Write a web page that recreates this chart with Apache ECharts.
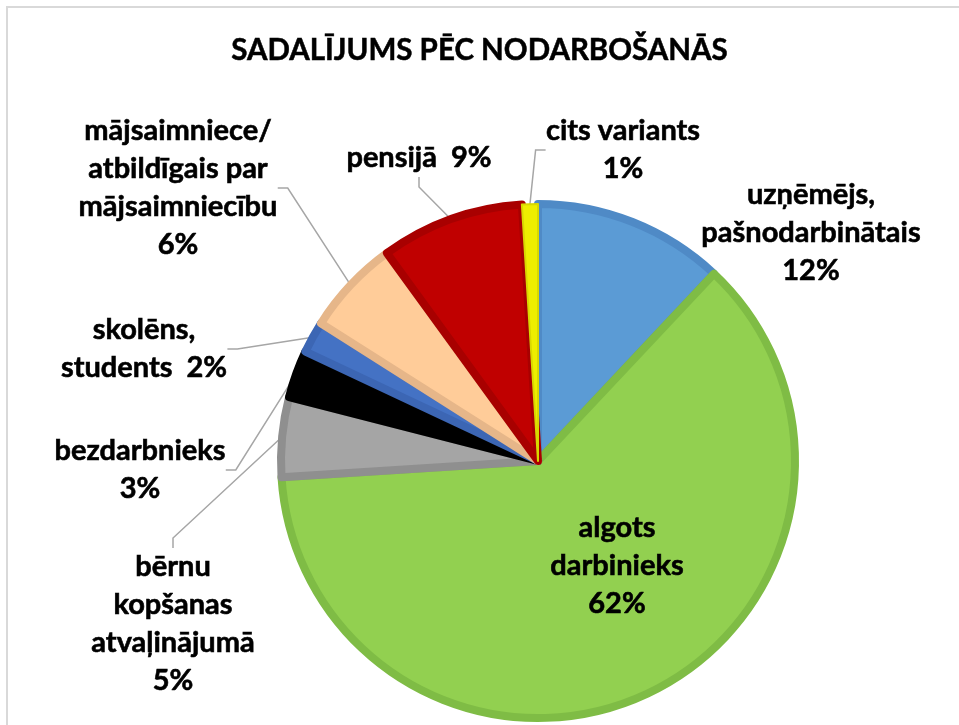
<!DOCTYPE html>
<html>
<head>
<meta charset="utf-8">
<script src="https://cdn.jsdelivr.net/npm/echarts@6/dist/echarts.min.js"></script>
<style>
html,body{margin:0;padding:0;background:#fff;overflow:hidden;}
#frame{position:absolute;left:6px;top:6px;width:1000px;height:1000px;border:2px solid #d9d9d9;box-sizing:border-box;}
#main{position:absolute;left:0;top:0;width:959px;height:725px;}
</style>
</head>
<body>
<div id="frame"></div>
<div id="main"></div>
<script>
// sadalījums pēc nodarbošanās
var categories = ['uzņēmējs,\npašnodarbinātais', 'algots\ndarbinieks', 'bērnu\nkopšanas\natvaļinājumā', 'bezdarbnieks', 'skolēns,\nstudents', 'mājsaimniece/\natbildīgais par\nmājsaimniecību', 'pensijā', 'cits variants'];
var values = [12, 62, 5, 3, 2, 6, 9, 1];
var inlinePct = ['skolēns,\nstudents', 'pensijā'];
var fillColors = ['#5b9bd5', '#92d050', '#a5a5a5', '#000000', '#4472c4', '#ffcc99', '#c00000', '#eeee00'];
var edgeColors = ['#4f8ac6', '#7fbc45', '#8f8f8f', '#000000', '#3c66b4', '#e6b689', '#a80000', '#d8d800'];

// label block centres (Excel-like placement)
var labelPos = [[811, 233], [617, 566], [173, 624], [140, 470], [144, 349], [178, 188], [419, 158], [623, 150]];
var noLine = [0, 1];

var chart = echarts.init(document.getElementById('main'));

var data = [];
for (var i = 0; i < values.length; i++) {
	data.push({
		name: categories[i],
		value: values[i],
		itemStyle: {color: fillColors[i], borderColor: edgeColors[i], borderWidth: values[i] < 2 ? 2 : 8},
		labelLine: {show: noLine.indexOf(i) < 0}
	});
}

var option = {
	animation: false,
	title: {
		text: 'SADALĪJUMS PĒC NODARBOŠANĀS',
		left: 'center',
		top: 30,
		textStyle: {fontFamily: 'Lato', fontWeight: 'bold', fontSize: 29.5, color: '#000', textBorderColor: '#000', textBorderWidth: 0.5}
	},
	series: [{
		type: 'pie',
		center: [538, 461],
		radius: 257,
		startAngle: 90,
		clockwise: true,
		avoidLabelOverlap: false,
		label: {
			show: true,
			fontFamily: 'Lato',
			fontWeight: 'bold',
			fontSize: 29,
			lineHeight: 38,
			color: '#000',
			textBorderColor: '#000',
			textBorderWidth: 0.6,
			align: 'center',
			formatter: function (p) {
				var sep = inlinePct.indexOf(p.name) >= 0 ? '  ' : '\n';
				return p.name + sep + Math.round(p.percent) + '%';
			}
		},
		labelLine: {show: true, length: 15, length2: 10, lineStyle: {color: '#a6a6a6', width: 1.5}},
		labelLayout: function (p) {
			var pos = labelPos[p.dataIndex];
			return {x: pos[0], y: pos[1], align: 'center', verticalAlign: 'middle'};
		},
		data: data
	}]
};
chart.setOption(option);
</script>
</body>
</html>
